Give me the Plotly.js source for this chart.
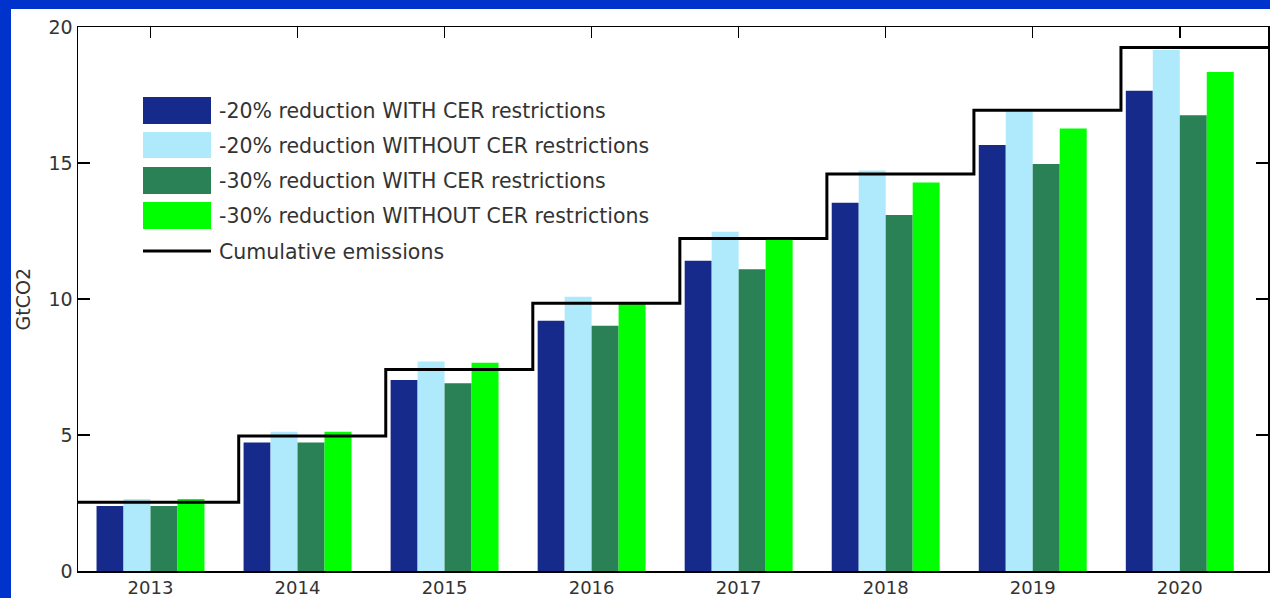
<!DOCTYPE html>
<html>
<head>
<meta charset="utf-8">
<script src="https://cdn.plot.ly/plotly-3.0.1.min.js"></script>
<style>
  html, body { margin: 0; padding: 0; background: #0033cc; width: 1270px; height: 598px; overflow: hidden; }
  #chart { position: absolute; left: 11px; top: 9px; width: 1259px; height: 589px; background: #ffffff; }
</style>
</head>
<body>
<div id="chart"></div>
<script>
// ---- data ----
const years = ['2013', '2014', '2015', '2016', '2017', '2018', '2019', '2020'];
const seriesNames = [
  '-20% reduction WITH CER restrictions',
  '-20% reduction WITHOUT CER restrictions',
  '-30% reduction WITH CER restrictions',
  '-30% reduction WITHOUT CER restrictions'
];
const red20With    = [2.39, 4.72, 7.02, 9.20, 11.41, 13.54, 15.66, 17.66];
const red20Without = [2.65, 5.12, 7.70, 10.08, 12.47, 14.72, 16.90, 19.15];
const red30With    = [2.39, 4.72, 6.90, 9.02, 11.09, 13.09, 14.96, 16.76];
const red30Without = [2.65, 5.12, 7.66, 9.82, 12.19, 14.28, 16.27, 18.35];
const cumulative   = [2.53, 4.96, 7.41, 9.84, 12.22, 14.60, 16.94, 19.25];
const lineName = 'Cumulative emissions';
const yTicks = [0, 5, 10, 15, 20];

// ---- styles ----
const colors = ['#152a8a', '#aeeafc', '#2a8155', '#00ff00'];
const FONT = 'DejaVu Sans, Verdana, sans-serif';
const TXT = '#333333';
const xRange = [-0.493, 7.6];
const stepOffset = 0.4;

// plot-area pixel geometry (page coords) for legend placement
const PX = {left: 78, right: 1268, top: 27, bottom: 571};
const px2x = p => (p - PX.left) / (PX.right - PX.left);
const px2y = p => (PX.bottom - p) / (PX.bottom - PX.top);

const idx = years.map((_, i) => i);
const seriesVals = [red20With, red20Without, red30With, red30Without];

const traces = seriesVals.map((vals, k) => ({
  type: 'bar',
  x: idx,
  y: vals,
  name: seriesNames[k],
  marker: {color: colors[k], line: {width: 0}},
  showlegend: false,
  hoverinfo: 'x+y'
}));

// step line for cumulative emissions
const stepX = [xRange[0]];
const stepY = [cumulative[0]];
for (let i = 1; i < cumulative.length; i++) { stepX.push(i - stepOffset); stepY.push(cumulative[i]); }
stepX.push(xRange[1]); stepY.push(cumulative[cumulative.length - 1]);
traces.push({
  type: 'scatter', mode: 'lines', x: stepX, y: stepY, name: lineName,
  line: {color: '#000000', width: 3, shape: 'hv'}, showlegend: false, cliponaxis: false
});
// empty trace so the top (mirror) tick axis is drawn
traces.push({
  type: 'scatter', mode: 'lines', x: idx, y: idx.map(() => null), xaxis: 'x2', yaxis: 'y',
  showlegend: false, hoverinfo: 'skip'
});

// custom legend
const shapes = [];
const annotations = [];
const rows = [
  {top: 97, bot: 124, cy: 111},
  {top: 132, bot: 158, cy: 146},
  {top: 167, bot: 194, cy: 181},
  {top: 202, bot: 229, cy: 216}
];
const LEGFONT = 20.5;
rows.forEach((r, k) => {
  shapes.push({type: 'rect', xref: 'paper', yref: 'paper', layer: 'above',
    x0: px2x(143), x1: px2x(211), y0: px2y(r.bot), y1: px2y(r.top),
    fillcolor: colors[k], line: {width: 0}});
  annotations.push({xref: 'paper', yref: 'paper', x: px2x(217), y: px2y(r.cy),
    xanchor: 'left', yanchor: 'middle', showarrow: false, text: seriesNames[k],
    font: {family: FONT, size: LEGFONT, color: TXT}});
});
shapes.push({type: 'line', xref: 'paper', yref: 'paper', layer: 'above',
  x0: px2x(143), x1: px2x(211), y0: px2y(251), y1: px2y(251), line: {color: '#000', width: 3}});
annotations.push({xref: 'paper', yref: 'paper', x: px2x(217), y: px2y(252),
  xanchor: 'left', yanchor: 'middle', showarrow: false, text: lineName,
  font: {family: FONT, size: LEGFONT, color: TXT}});
// y axis title
annotations.push({xref: 'paper', yref: 'paper', x: px2x(22.5), y: px2y(300),
  xanchor: 'center', yanchor: 'middle', showarrow: false, text: 'GtCO2', textangle: -90,
  font: {family: FONT, size: 19, color: TXT}});

const layout = {
  width: 1259, height: 589,
  margin: {l: 67, r: 2, t: 18, b: 27, pad: 0},
  paper_bgcolor: '#ffffff', plot_bgcolor: '#ffffff',
  barmode: 'group', bargap: 0.266, bargroupgap: 0,
  showlegend: false,
  font: {family: FONT, size: 19, color: TXT},
  xaxis: {
    range: xRange, tickvals: idx, ticktext: years,
    ticks: '', showline: true, mirror: true, linecolor: '#000', linewidth: 1.5,
    showgrid: false, zeroline: false, fixedrange: true, ticklabelstandoff: 0,
    tickfont: {family: FONT, size: 18, color: TXT}
  },
  xaxis2: {
    overlaying: 'x', side: 'top', range: xRange, tickvals: idx, showticklabels: false,
    ticks: 'inside', ticklen: 11, tickwidth: 1.5, tickcolor: '#000',
    showline: false, showgrid: false, zeroline: false, fixedrange: true
  },
  yaxis: {
    range: [0, 20], tickvals: yTicks, ticks: 'inside', ticklen: 12, tickwidth: 1.5, tickcolor: '#000',
    showline: true, mirror: 'ticks', linecolor: '#000', linewidth: 1.5,
    showgrid: false, zeroline: false, fixedrange: true,
    tickfont: {family: FONT, size: 19, color: TXT}
  },
  shapes: shapes,
  annotations: annotations
};

Plotly.newPlot('chart', traces, layout, {displayModeBar: false, staticPlot: true});
</script>
</body>
</html>
